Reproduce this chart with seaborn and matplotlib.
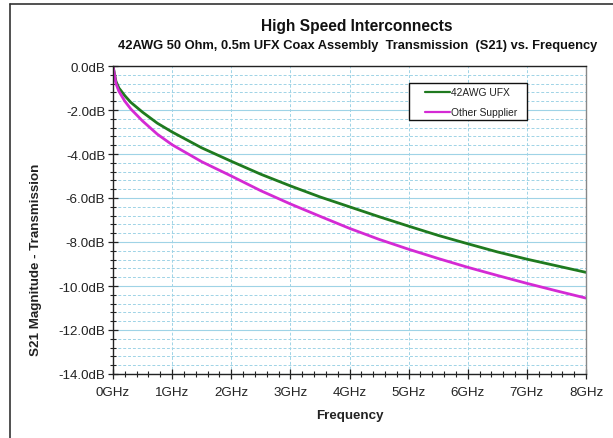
import matplotlib
matplotlib.use("Agg")
import matplotlib.pyplot as plt
from matplotlib.ticker import MultipleLocator, FuncFormatter
from matplotlib.lines import Line2D
from matplotlib.patches import Rectangle
import seaborn as sns
import pandas as pd

freq_ghz = [0, 0.05, 0.1, 0.2, 0.3, 0.5, 0.75, 1, 1.5, 2, 2.5, 3, 3.5, 4,
            4.5, 5, 5.5, 6, 6.5, 7, 7.5, 8]
ufx_db = [0, -0.7, -1.0, -1.35, -1.65, -2.1, -2.6, -3.0, -3.72, -4.33, -4.92,
          -5.45, -5.95, -6.4, -6.85, -7.28, -7.7, -8.08, -8.45, -8.78, -9.08, -9.38]
other_db = [0, -0.8, -1.15, -1.6, -1.95, -2.5, -3.1, -3.58, -4.35, -5.0, -5.67,
            -6.27, -6.83, -7.38, -7.88, -8.33, -8.75, -9.15, -9.52, -9.88, -10.22, -10.55]
series_names = ["42AWG UFX", "Other Supplier"]
title = "High Speed Interconnects"
subtitle = "42AWG 50 Ohm, 0.5m UFX Coax Assembly  Transmission  (S21) vs. Frequency"

df = pd.DataFrame({
    "Frequency": freq_ghz * 2,
    "S21": ufx_db + other_db,
    "Series": [series_names[0]] * len(freq_ghz) + [series_names[1]] * len(freq_ghz),
})

sns.set_theme(style="white")
plt.rcParams["font.family"] = ["Liberation Sans", "DejaVu Sans"]

W, H = 613, 439
fig = plt.figure(figsize=(W / 100, H / 100), dpi=100)
fig.patch.set_facecolor("white")
AX_L, AX_R, AX_T, AX_B = 113, 586, 67, 375
ax = fig.add_axes([AX_L / W, 1 - AX_B / H, (AX_R - AX_L) / W, (AX_B - AX_T) / H])

palette = {series_names[0]: "#1f7a1f", series_names[1]: "#d42ad4"}
sns.lineplot(data=df, x="Frequency", y="S21", hue="Series", palette=palette,
             linewidth=2.0, ax=ax, legend=False)

ax.set_xlim(0, 8)
ax.set_ylim(-14, 0)
ax.xaxis.set_major_locator(MultipleLocator(1))
ax.xaxis.set_minor_locator(MultipleLocator(0.2))
ax.yaxis.set_major_locator(MultipleLocator(2))
ax.yaxis.set_minor_locator(MultipleLocator(0.4))
ax.xaxis.set_major_formatter(FuncFormatter(lambda v, p: f"{v:.0f}GHz"))
ax.yaxis.set_major_formatter(FuncFormatter(lambda v, p: f"{v:.1f}dB"))

gc = "#9fd3e6"
ax.grid(which="major", axis="y", color=gc, linewidth=0.8, linestyle="-")
ax.grid(which="minor", axis="y", color=gc, linewidth=0.7, linestyle=(0, (3, 2)))
ax.grid(which="major", axis="x", color=gc, linewidth=0.7, linestyle=(0, (3, 2)))
ax.set_axisbelow(True)

for s in ["left", "bottom", "top"]:
    ax.spines[s].set_color("#222222")
    ax.spines[s].set_linewidth(1.0)
ax.spines["right"].set_color("#888888")
ax.spines["right"].set_linewidth(1.0)

ax.tick_params(axis="both", which="major", direction="inout", length=7,
               width=0.9, color="#222222", labelsize=9.6, labelcolor="#222222", pad=2)
ax.tick_params(axis="both", which="minor", direction="inout", length=4,
               width=0.8, color="#222222")
ax.tick_params(axis="x", which="both", top=False, bottom=True)
ax.tick_params(axis="x", which="major", pad=5)
ax.tick_params(axis="y", which="both", right=False, left=True)

ax.set_xlabel("Frequency", fontsize=9.6, fontweight="bold", color="#222222", labelpad=8)
ax.set_ylabel("S21 Magnitude - Transmission", fontsize=9.6, fontweight="bold",
              color="#222222")
ax.yaxis.set_label_coords((42 - AX_L) / (AX_R - AX_L), 0.375)

fig.text(357 / W, 1 - 27 / H, title, ha="center", va="center", fontsize=11.2,
         fontweight="bold", color="#111111")
fig.text(358 / W, 1 - 46.5 / H, subtitle, ha="center", va="center", fontsize=9.3,
         fontweight="bold", color="#111111")

# legend box (drawn by hand to match the original's padding)
LX0, LX1, LY0, LY1 = 409, 527, 84, 121
fig.add_artist(Rectangle((LX0 / W, 1 - LY1 / H), (LX1 - LX0) / W, (LY1 - LY0) / H,
                         transform=fig.transFigure, facecolor="white",
                         edgecolor="#111111", linewidth=1.0, zorder=5))
for name, yy in zip(series_names, [93, 113]):
    fig.add_artist(Line2D([425 / W, 450 / W], [1 - yy / H, 1 - yy / H],
                          color=palette[name], linewidth=1.6, zorder=6))
    fig.text(451 / W, 1 - yy / H, name, ha="left", va="center", fontsize=7.4,
             color="#222222", zorder=6)

fig.add_artist(Line2D([10 / W, 1], [1 - 5 / H, 1 - 5 / H], color="#333333", linewidth=1.2))
fig.add_artist(Line2D([10 / W, 10 / W], [0, 1 - 5 / H], color="#333333", linewidth=1.2))

fig.savefig("out.png", dpi=100)
